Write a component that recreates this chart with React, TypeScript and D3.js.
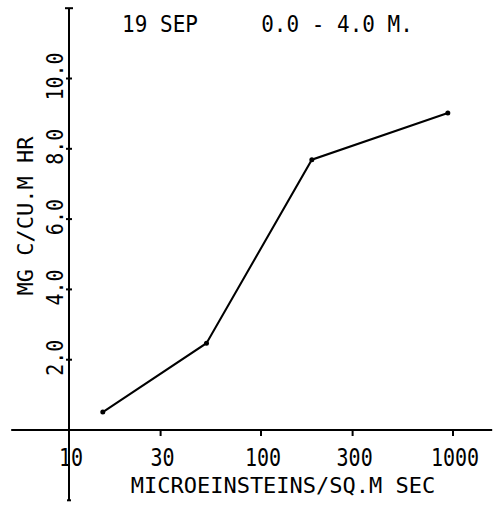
import React from "react";
import * as d3 from "d3";

// Light-response curve: primary production vs irradiance
const irradiance = [15, 52, 184, 940];
const production = [0.51, 2.47, 7.69, 9.02];

const xTickValues = [10, 30, 100, 300, 1000];
const xTickLabels = ["10", "30", "100", "300", "1000"];
const yTickValues = [2, 4, 6, 8, 10];
const yTickLabels = ["2.0", "4.0", "6.0", "8.0", "10.0"];

const titleDate = "19 SEP";
const titleDepth = "0.0 - 4.0 M.";
const xAxisTitle = "MICROEINSTEINS/SQ.M SEC";
const yAxisTitle = "MG C/CU.M HR";

const W = 498;
const H = 508;
const FONT = "'DejaVu Sans Mono', monospace";

export default function App() {
  const x = d3.scaleLog().domain([10, 1000]).range([69, 453]);
  const y = d3.scaleLinear().domain([0, 10]).range([430, 78.5]);

  const xMin = x(5);
  const xMax = x(1600);
  const yTop = y(12);
  const yBottom = y(-2);
  const x0 = x(10);
  const y0 = y(0);

  const pts: [number, number][] = irradiance.map((v, i) => [v, production[i]]);
  const line = d3
    .line<[number, number]>()
    .x((d) => x(d[0]))
    .y((d) => y(d[1]));

  return (
    <svg
      width={W}
      height={H}
      style={{ position: "absolute", left: 0, top: 0, background: "#fff" }}
    >
      <rect width={W} height={H} fill="#fff" />
      {/* axes */}
      <line x1={x0} x2={x0} y1={yTop} y2={yBottom} stroke="#000" strokeWidth={2} />
      <line x1={xMin} x2={xMax} y1={y0} y2={y0} stroke="#000" strokeWidth={2} />
      <line x1={x0 - 4} x2={x0 + 4} y1={yTop} y2={yTop} stroke="#000" strokeWidth={2} />
      <line x1={x0 - 2} x2={x0 + 2} y1={yBottom} y2={yBottom} stroke="#000" strokeWidth={2} />

      {/* y ticks */}
      {yTickValues.map((v, i) => (
        <g key={v}>
          <line x1={x0 - 3} x2={x0 + 3} y1={y(v)} y2={y(v)} stroke="#000" strokeWidth={2} />
          <text
            transform={`translate(${55},${y(v) - 2}) rotate(-90) scale(1,1.15)`}
            textAnchor="middle"
            dominantBaseline="central"
            fontFamily={FONT}
            fontSize={20}
            fill="#000"
          >
            {yTickLabels[i]}
          </text>
        </g>
      ))}

      {/* x ticks */}
      {xTickValues.map((v, i) => (
        <g key={v}>
          <line x1={x(v)} x2={x(v)} y1={y0} y2={y0 + 6} stroke="#000" strokeWidth={2} />
          <text
            transform={`translate(${x(v) + 2},${457}) scale(1,1.2)`}
            textAnchor="middle"
            dominantBaseline="central"
            fontFamily={FONT}
            fontSize={20}
            fill="#000"
          >
            {xTickLabels[i]}
          </text>
        </g>
      ))}

      {/* data */}
      <path d={line(pts) || ""} fill="none" stroke="#000" strokeWidth={2} />
      {pts.map((d, i) => (
        <circle key={i} cx={x(d[0])} cy={y(d[1])} r={2.5} fill="#000" />
      ))}

      {/* titles */}
      <text transform="translate(160,24) scale(1,1.12)" textAnchor="middle" dominantBaseline="central" fontFamily={FONT} fontSize={21} fill="#000">
        {titleDate}
      </text>
      <text transform="translate(337,24) scale(1,1.12)" textAnchor="middle" dominantBaseline="central" fontFamily={FONT} fontSize={21} fill="#000">
        {titleDepth}
      </text>
      <text x={283} y={485} textAnchor="middle" dominantBaseline="central" fontFamily={FONT} fontSize={22} fill="#000">
        {xAxisTitle}
      </text>
      <text
        transform={`translate(25,216) rotate(-90)`}
        textAnchor="middle"
        dominantBaseline="central"
        fontFamily={FONT}
        fontSize={22}
        fill="#000"
      >
        {yAxisTitle}
      </text>
    </svg>
  );
}
